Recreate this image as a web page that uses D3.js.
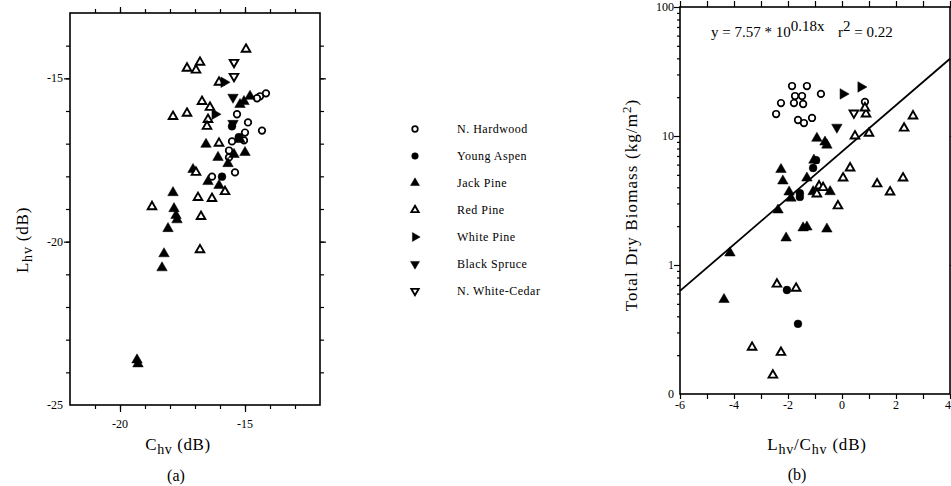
<!DOCTYPE html>
<html>
<head>
<meta charset="utf-8">
<script src="https://cdn.jsdelivr.net/npm/d3@7"></script>
<style>
  body { margin: 0; background: #fff; }
  text { font-family: "Liberation Serif", "DejaVu Serif", serif; fill: #000; }
</style>
</head>
<body>
<svg width="951" height="486"></svg>
<script>
// species, in legend order
const species = ["N. Hardwood", "Young Aspen", "Jack Pine", "Red Pine", "White Pine", "Black Spruce", "N. White-Cedar"];

// panel (a): [Chv, Lhv] in dB
const aHardwood = [[-14.4, -15.55], [-14.16, -15.46], [-14.52, -15.61], [-15.32, -16.1], [-14.88, -16.35],
  [-14.32, -16.6], [-15.0, -16.66], [-15.04, -16.9], [-15.52, -16.93], [-15.64, -17.21], [-15.64, -17.42],
  [-15.4, -17.88], [-16.32, -18.01]];
const aAspen = [[-15.92, -18.01], [-15.52, -16.47], [-15.25, -16.8]];
const aJackPine = [[-15.2, -15.8], [-15.04, -15.71], [-14.8, -15.55], [-15.2, -16.87], [-16.56, -17.02],
  [-15.44, -17.33], [-15.0, -17.27], [-16.08, -17.42], [-15.68, -17.61], [-17.08, -17.79], [-16.48, -18.16],
  [-16.04, -18.28], [-17.88, -18.5], [-17.84, -18.99], [-17.76, -19.2], [-17.72, -19.33], [-18.08, -19.6],
  [-18.24, -20.37], [-18.32, -20.8], [-19.32, -23.62], [-19.28, -23.74]];
const aRedPine = [[-14.96, -14.11], [-17.32, -14.69], [-16.96, -14.75], [-16.8, -14.51], [-16.04, -15.12],
  [-16.72, -15.71], [-16.4, -15.89], [-17.88, -16.17], [-17.32, -16.07], [-16.48, -16.26], [-16.52, -16.47],
  [-16.04, -16.99], [-16.96, -17.88], [-15.8, -18.47], [-16.88, -18.65], [-16.32, -18.68], [-18.72, -18.93],
  [-16.76, -19.23], [-16.8, -20.25]];
const aWhitePine = [[-15.84, -15.12], [-16.2, -16.1]];
const aBlackSpruce = [[-15.48, -15.58], [-15.48, -16.38]];
const aWhiteCedar = [[-15.44, -14.51], [-15.44, -14.94]];

// panel (b): [Lhv/Chv in dB, biomass in kg/m2]
const bHardwood = [[-1.85, 24.4], [-1.3, 24.4], [-1.74, 20.4], [-1.48, 20.4], [-1.78, 18.0], [-1.44, 17.7],
  [-2.26, 18.0], [-2.44, 14.8], [-0.78, 21.2], [-1.63, 13.3], [-1.41, 12.6], [-1.11, 13.8], [0.85, 18.4]];
const bAspen = [[-2.04, 0.64], [-1.63, 0.35], [-1.56, 3.6], [-1.56, 3.37], [-1.07, 5.65], [-0.96, 6.5]];
const bJackPine = [[-4.37, 0.54], [-4.15, 1.24], [-2.37, 2.67], [-2.26, 5.5], [-2.19, 4.48], [-1.96, 3.68],
  [-1.89, 3.3], [-2.07, 1.62], [-1.44, 1.94], [-1.3, 1.97], [-0.56, 1.9], [-1.3, 4.72], [-1.07, 3.7],
  [-0.44, 3.7], [-0.93, 9.6], [-0.63, 8.98], [-0.56, 8.5], [-1.04, 6.5]];
const bRedPine = [[-2.41, 0.71], [-1.7, 0.66], [-3.33, 0.23], [-2.26, 0.21], [-2.56, 0.14], [0.3, 5.65],
  [0.04, 4.72], [1.3, 4.25], [2.26, 4.72], [1.78, 3.68], [-0.15, 2.87], [-0.85, 4.1], [-0.7, 3.98],
  [-0.93, 3.55], [0.48, 10.0], [1.0, 10.5], [2.3, 11.5], [2.63, 14.3], [0.89, 14.8], [0.85, 16.5]];
const bWhitePine = [[0.04, 21.2], [0.7, 24.0]];
const bBlackSpruce = [[-0.19, 11.7]];
const bWhiteCedar = [[0.44, 15.1]];

// regression shown in panel (b): y = 7.57 * 10^(0.18x)
const fitA = 7.57, fitB = 0.18;

const aSeries = [aHardwood, aAspen, aJackPine, aRedPine, aWhitePine, aBlackSpruce, aWhiteCedar];
const bSeries = [bHardwood, bAspen, bJackPine, bRedPine, bWhitePine, bBlackSpruce, bWhiteCedar];

const svg = d3.select("svg");

// marker style per species
const markStyle = [
  { type: "circle", fill: "#fff", rot: 0 },
  { type: "circle", fill: "#000", rot: 0 },
  { type: "tri", fill: "#000", rot: 0 },
  { type: "tri", fill: "#fff", rot: 0 },
  { type: "tri", fill: "#000", rot: 90 },
  { type: "tri", fill: "#000", rot: 180 },
  { type: "tri", fill: "#fff", rot: 180 }
];

function drawMark(g, i, x, y, scale) {
  const s = markStyle[i];
  const k = scale || 1;
  if (s.type === "circle") {
    g.append("circle")
      .attr("cx", x).attr("cy", y)
      .attr("r", (s.fill === "#fff" ? 3.3 : 3.9) * k)
      .attr("fill", s.fill)
      .attr("stroke", "#000")
      .attr("stroke-width", s.fill === "#fff" ? 1.7 : 0.5);
  } else {
    g.append("path")
      .attr("d", d3.symbol(d3.symbolTriangle, (s.fill === "#fff" ? 32 : 48) * k * k)())
      .attr("transform", `translate(${x},${y}) rotate(${s.rot})`)
      .attr("fill", s.fill)
      .attr("stroke", "#000")
      .attr("stroke-width", s.fill === "#fff" ? 1.9 : 0.5)
      .attr("stroke-linejoin", "miter");
  }
}

function frame(x0, x1, y0, y1) {
  svg.append("rect")
    .attr("x", x0).attr("y", y0)
    .attr("width", x1 - x0).attr("height", y1 - y0)
    .attr("fill", "none").attr("stroke", "#000").attr("stroke-width", 1.6);
}

function ticks(axis, scale, values, size, pos) {
  const g = svg.append("g").attr("transform", pos);
  g.call(axis(scale).tickValues(values).tickSize(size).tickFormat("").tickSizeOuter(0));
  g.select(".domain").remove();
  g.selectAll(".tick line").attr("stroke", "#000").attr("stroke-width", 1.2);
  return g;
}

function label(x, y, str, anchor, size, spacing) {
  return svg.append("text").attr("x", x).attr("y", y)
    .attr("text-anchor", anchor || "middle")
    .attr("letter-spacing", spacing || 0)
    .attr("font-size", size || 12).text(str);
}

// ---------- panel (a) ----------
const ax = d3.scaleLinear().domain([-22, -12]).range([70, 320]);
const ay = d3.scaleLinear().domain([-25, -13]).range([405, 13]);

frame(70, 320, 13, 405);
const axMinor = d3.range(-21, -12, 1);
const ayMinor = d3.range(-24, -13, 1);
ticks(d3.axisBottom, ax, axMinor, 4, "translate(0,405)");
ticks(d3.axisBottom, ax, [-20, -15], 7, "translate(0,405)");
ticks(d3.axisTop, ax, axMinor, 4, "translate(0,13)");
ticks(d3.axisTop, ax, [-20, -15], 6, "translate(0,13)");
ticks(d3.axisLeft, ay, ayMinor, 4, "translate(70,0)");
ticks(d3.axisLeft, ay, [-20, -15], 6, "translate(70,0)");
ticks(d3.axisRight, ay, ayMinor, 4, "translate(320,0)");
ticks(d3.axisRight, ay, [-20, -15], 6, "translate(320,0)");

[-20, -15].forEach(v => label(ax(v), 428, String(v), "middle", 12));
[-25, -20, -15].forEach(v => label(63, ay(v) + 4, String(v), "end", 12));

const ga = svg.append("g");
aSeries.forEach((pts, i) => pts.forEach(p => drawMark(ga, i, ax(p[0]), ay(p[1]))));

// axis titles (a)
const ta = label(178, 450, "C", "middle", 17, 0.6);
ta.append("tspan").attr("dy", 4).attr("font-size", 14).text("hv");
ta.append("tspan").attr("dy", -4).text(" (dB)");
const tya = svg.append("text").attr("transform", "translate(28,240) rotate(-90)")
  .attr("text-anchor", "middle").attr("font-size", 17).attr("letter-spacing", 0.8).text("L");
tya.append("tspan").attr("dy", 4).attr("font-size", 14).text("hv");
tya.append("tspan").attr("dy", -4).text(" (dB)");
label(176, 481, "(a)", "middle", 16);

// ---------- legend ----------
const gl = svg.append("g");
species.forEach((name, i) => {
  const y = 129 + i * 27;
  drawMark(gl, i, 415, y, 0.85);
  label(457, y + 4, name, "start", 12, 0.5);
});

// ---------- panel (b) ----------
const bx = d3.scaleLinear().domain([-6, 4]).range([680, 950]);
const by = d3.scaleLog().domain([0.1, 100]).range([394, 7]);

frame(680, 950, 7, 394);
const bxAll = d3.range(-6, 4.01, 1);
const byMinor = [];
[0.1, 1, 10].forEach(d => d3.range(2, 10).forEach(m => byMinor.push(d * m)));
ticks(d3.axisBottom, bx, bxAll, 5, "translate(0,394)");
ticks(d3.axisTop, bx, bxAll, 6, "translate(0,7)");
ticks(d3.axisLeft, by, byMinor, 3, "translate(680,0)");
ticks(d3.axisLeft, by, [1, 10, 100], 6, "translate(680,0)");
ticks(d3.axisRight, by, [1, 10, 100], 6, "translate(950,0)");

d3.range(-6, 2.01, 2).forEach(v => label(bx(v), 409, String(v), "middle", 12));
label(951, 409, "4", "end", 12);
const byLabels = [[100, "100"], [10, "10"], [1, "1"], [0.1, "0"]];
byLabels.forEach(d => label(674, by(d[0]) + 4, d[1], "end", 12));

// fitted line
const fitLine = d3.line().x(d => bx(d)).y(d => by(fitA * Math.pow(10, fitB * d)));
svg.append("path").datum([-6, 4]).attr("d", fitLine)
  .attr("fill", "none").attr("stroke", "#000").attr("stroke-width", 1.8);

const gb = svg.append("g");
bSeries.forEach((pts, i) => pts.forEach(p => drawMark(gb, i, bx(p[0]), by(p[1]))));

// equation
const eq = label(711, 37, "y = 7.57 * 10", "start", 15, 0);
eq.append("tspan").attr("dy", -6).text("0.18x");
const rsq = label(838, 37, "r", "start", 15, 0);
rsq.append("tspan").attr("dy", -6).text("2");
rsq.append("tspan").attr("dy", 6).text(" = 0.22");

// axis titles (b)
const tb = label(817, 450, "L", "middle", 17, 0.8);
tb.append("tspan").attr("dy", 4).attr("font-size", 14).text("hv");
tb.append("tspan").attr("dy", -4).text("/C");
tb.append("tspan").attr("dy", 4).attr("font-size", 14).text("hv");
tb.append("tspan").attr("dy", -4).text(" (dB)");
const tyb = svg.append("text").attr("transform", "translate(637,205) rotate(-90)")
  .attr("text-anchor", "middle").attr("font-size", 17).attr("letter-spacing", 1.1)
  .text("Total Dry Biomass (kg/m");
tyb.append("tspan").attr("dy", -6).attr("font-size", 13).text("2");
tyb.append("tspan").attr("dy", 6).text(")");
label(797, 480, "(b)", "middle", 16);
</script>
</body>
</html>
